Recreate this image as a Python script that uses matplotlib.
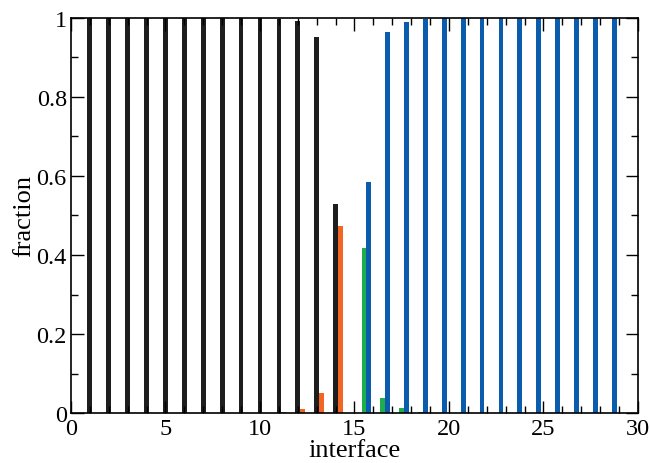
import numpy as np
import matplotlib
matplotlib.use('Agg')
import matplotlib.pyplot as plt
from matplotlib.ticker import MultipleLocator

plt.rcParams['font.family'] = ['Liberation Serif', 'DejaVu Serif']
plt.rcParams['mathtext.fontset'] = 'stix'

# data
black_x = np.arange(1, 15)
black_y = [1.0, 1.0, 1.0, 1.0, 1.0, 1.0, 1.0, 1.0, 1.0, 1.0, 0.996, 0.991, 0.951, 0.528]
orange_x = np.arange(10, 15) + 0.25
orange_y = [0.001, 0.004, 0.010, 0.051, 0.473]
green_x = np.arange(15, 19) + 0.5
green_y = [0.419, 0.038, 0.013, 0.004]
blue_x = np.arange(15, 29) + 0.75
blue_y = [0.584, 0.964, 0.988, 0.996, 1.0, 1.0, 1.0, 1.0, 1.0, 1.0, 1.0, 1.0, 1.0, 1.0]
ytick_vals = [0, 0.2, 0.4, 0.6, 0.8, 1.0]
ytick_labels = ['0', '0.2', '0.4', '0.6', '0.8', '1']

fig = plt.figure(figsize=(6.51, 4.64), dpi=100)
ax = fig.add_axes([0.109, 0.107, 0.871, 0.853])
w = 0.25
ax.bar(black_x, black_y, width=w, color='#1e1e1e', linewidth=0)
ax.bar(orange_x, orange_y, width=w, color='#f26522', linewidth=0)
ax.bar(green_x, green_y, width=w, color='#1fae4b', linewidth=0)
ax.bar(blue_x, blue_y, width=w, color='#0b5cad', linewidth=0)

ax.set_xlim(0, 30)
ax.set_ylim(0, 1)
ax.xaxis.set_major_locator(MultipleLocator(5))
ax.xaxis.set_minor_locator(MultipleLocator(1))
ax.set_yticks(ytick_vals)
ax.set_yticklabels(ytick_labels)
ax.yaxis.set_minor_locator(MultipleLocator(0.1))
ax.tick_params(which='both', direction='in', top=True, right=True, labelsize=17.5, width=1)
ax.tick_params(which='major', length=9, pad=3)
ax.tick_params(which='minor', length=5)
for s in ax.spines.values():
    s.set_linewidth(1.2)
ax.set_xlabel('interface', fontsize=19, labelpad=0)
ax.set_ylabel('fraction', fontsize=19, labelpad=1)

plt.savefig('out.png', dpi=100)
